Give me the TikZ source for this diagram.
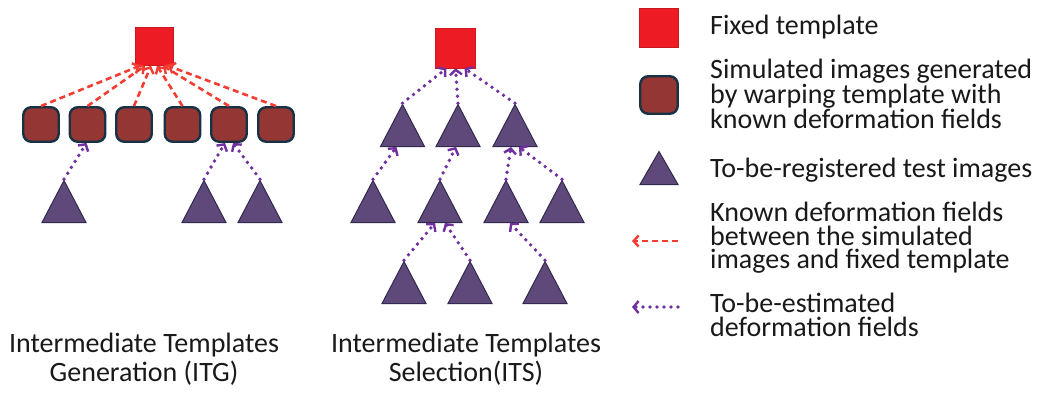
\documentclass[tikz,border=0pt]{standalone}
\usepackage{fontspec}
\setmainfont{Carlito}
\usetikzlibrary{arrows.meta,shapes.geometric}
\definecolor{tplred}{RGB}{237,28,36}
\definecolor{simfill}{RGB}{148,54,52}
\definecolor{simline}{RGB}{23,50,68}
\definecolor{trifill}{RGB}{95,73,122}
\definecolor{triline}{RGB}{50,42,78}
\definecolor{knownred}{RGB}{245,60,50}
\definecolor{estpurple}{RGB}{112,48,160}
\definecolor{txt}{RGB}{25,25,25}

\begin{document}
\begin{tikzpicture}[x=1pt,y=-1pt,
  tpl/.style={fill=tplred, draw=tplred!85!black, line width=0.6pt, minimum size=38pt, inner sep=0pt},
  sim/.style={fill=simfill, draw=simline, line width=2.4pt, rounded corners=8pt,
              minimum width=35.5pt, minimum height=34.5pt, inner sep=0pt},
  tri/.style={isosceles triangle, isosceles triangle stretches, shape border rotate=90,
              fill=trifill, draw=triline, line width=1pt,
              minimum width=44pt, minimum height=42pt, inner sep=0pt, anchor=lower side},
  known/.style={draw=knownred, line width=2.6pt, dash pattern=on 6pt off 4pt,
              -{Straight Barb[length=5pt,width=11pt,line width=2.4pt]}},
  est/.style={draw=estpurple, line width=3.8pt, line cap=round, dash pattern=on 0pt off 7pt,
              -{Straight Barb[length=5pt,width=12pt,line width=2.4pt]}},
  lbl/.style={text=txt, font=\fontsize{28}{23.5}\selectfont, align=left, inner sep=0pt},
  captext/.style={text=txt, font=\fontsize{28}{29}\selectfont, align=center, inner sep=0pt}]

\fill[white] (0,0) rectangle (1044,392);
\useasboundingbox (0,0) rectangle (1044,392);

% ---------- Intermediate Templates Generation ----------
\node[tpl] (g0) at (154,46.5) {};
\foreach \i/\x in {1/41,2/87.5,3/134,4/182.5,5/229,6/276}
  \node[sim] (g\i) at (\x,124.5) {};
\node[tri] (ga) at (64,223) {};
\node[tri] (gb) at (204,223) {};
\node[tri] (gc) at (260,223) {};

\foreach \i/\s in {1/-14,2/-9,3/-3,4/3,5/9,6/14}
  \draw[known] (g\i.north) -- ([xshift=\s pt]g0.south);

\draw[est] (ga.apex) -- ([xshift=-1pt]g2.south);
\draw[est] (gb.apex) -- ([xshift=-4pt]g5.south);
\draw[est] (gc.apex) -- ([xshift=4pt]g5.south);

% ---------- Intermediate Templates Selection ----------
\node[tpl, minimum size=40pt] (s0) at (455.5,48) {};
\node[tri] (s1) at (402.5,147) {};
\node[tri] (s2) at (458,147) {};
\node[tri] (s3) at (515,147) {};
\node[tri] (s4) at (373,223) {};
\node[tri] (s5) at (440,223) {};
\node[tri] (s6) at (506,223) {};
\node[tri] (s7) at (562,223) {};
\node[tri] (s8) at (404,304) {};
\node[tri] (s9) at (470,304) {};
\node[tri] (s10) at (545,304) {};

\draw[est] (s1.apex) -- ([xshift=-9pt]s0.south);
\draw[est] (s2.apex) -- ([xshift=0pt]s0.south);
\draw[est] (s3.apex) -- ([xshift=9pt]s0.south);
\draw[est] (s4.apex) -- ([xshift=-6pt]s1.lower side);
\draw[est] (s5.apex) -- ([xshift=-2pt]s2.lower side);
\draw[est] (s6.apex) -- ([xshift=-4pt]s3.lower side);
\draw[est] (s7.apex) -- ([xshift=4pt]s3.lower side);
\draw[est] (s8.apex) -- ([xshift=-5pt]s5.lower side);
\draw[est] (s9.apex) -- ([xshift=5pt]s5.lower side);
\draw[est] (s10.apex) -- ([xshift=4pt]s6.lower side);

% ---------- captions ----------
\node[captext] (capg) at (144,359) {Intermediate Templates\\Generation (ITG)};
\node[captext] (caps) at (466,359) {Intermediate Templates\\Selection(ITS)};

% ---------- legend ----------
\node[tpl, minimum size=39pt] (k1) at (659,28) {};
\node[sim, minimum width=37.5pt, minimum height=37.5pt] (k2) at (659,95) {};
\node[tri, minimum width=38pt, minimum height=33pt] (k3) at (659,185) {};
\coordinate (k4a) at (678,241);
\coordinate (k4b) at (632,241);
\draw[known] (k4a) -- (k4b);
\coordinate (k5a) at (678,307);
\coordinate (k5b) at (632,307);
\draw[est] (k5a) -- (k5b);

\node[lbl, anchor=base west] (t1) at (710,34) {Fixed template};
\node[lbl, anchor=west] (t2) at (710,94) {Simulated images generated\\by warping template with\\known deformation fields};
\node[lbl, anchor=base west] (t3) at (710,177) {To-be-registered test images};
\node[lbl, anchor=west] (t4) at (710,238) {Known deformation fields\\between the simulated\\images and fixed template};
\node[lbl, anchor=west] (t5) at (710,315) {To-be-estimated\\deformation fields};
\end{tikzpicture}
\end{document}
